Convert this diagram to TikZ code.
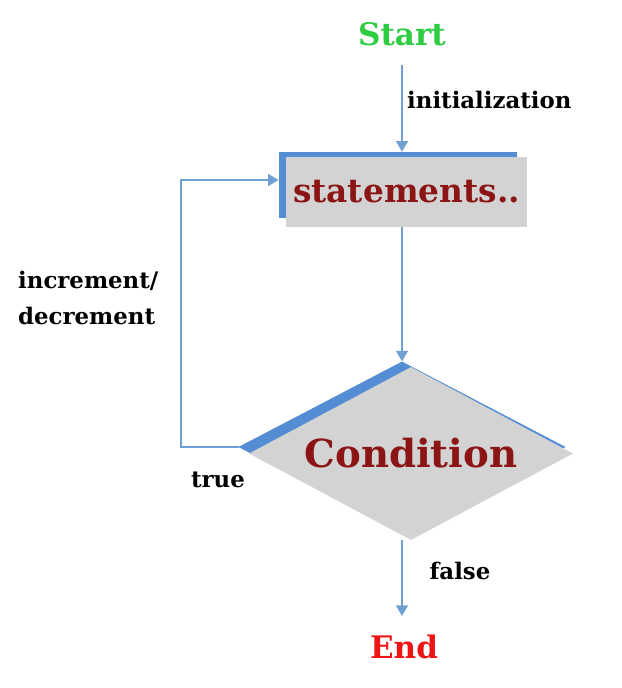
\documentclass[tikz,border=0pt]{standalone}
\usepackage{fontspec}
\setmainfont{DejaVu Serif}
\usetikzlibrary{arrows.meta,shapes.geometric}

\definecolor{lineblue}{RGB}{112,160,210}
\definecolor{boxblue}{RGB}{84,141,212}
\definecolor{boxgray}{RGB}{211,211,211}
\definecolor{darkred}{RGB}{139,21,21}
\definecolor{startgreen}{RGB}{46,204,64}
\definecolor{endred}{RGB}{238,20,20}

\begin{document}
\begin{tikzpicture}[x=0.03cm, y=-0.03cm,
    flow/.style={draw=lineblue, line width=1.6pt, -{Triangle[width=10pt,length=9pt]}},
    lbl/.style={inner sep=0, text=black, font=\bfseries\fontsize{19.5}{31.5}\selectfont},
    term/.style={inner sep=0, font=\bfseries\fontsize{26.5}{32}\selectfont}]
    \useasboundingbox (0,0) rectangle (622,688);

    \node[term, text=startgreen] (start) at (402,34) {Start};

    \node[fill=boxblue, minimum width=7.14cm, minimum height=1.98cm, inner sep=0] (stmtback) at (398,185) {};
    \node[fill=boxgray, minimum width=7.23cm, minimum height=2.1cm, inner sep=0, text=darkred, font=\bfseries\fontsize{28}{34}\selectfont] (stmt) at (406.5,192) {statements..};

    \node[diamond, aspect=1.9, fill=boxblue, draw=boxblue, line width=1pt, minimum width=9.75cm, minimum height=5.1cm, inner sep=0] (condback) at (402,447) {};
    \node[diamond, aspect=1.9, fill=boxgray, minimum width=9.72cm, minimum height=5.19cm, inner sep=0, text=darkred, font=\bfseries\fontsize{33}{40}\selectfont] (cond) at (411,453.5) {Condition};

    \node[term, text=endred] (stop) at (404,647) {End};

    \node[lbl, anchor=west] (init) at (407,100) {initialization};
    \node[lbl, anchor=west, align=left] (incr) at (18,298) {increment/\\decrement};
    \node[lbl] (true) at (218,480) {true};
    \node[lbl] (false) at (460,571) {false};

    % connectors
    \draw[flow, shorten <=16pt] (start.south) -- (start.south |- stmtback.north);
    \draw[flow] (stmt.south -| condback.north) -- (condback.north);
    \draw[flow] (condback.west) -- ++(-58,0) |- ([yshift=0.15cm]stmtback.west);
    \draw[flow, shorten >=16pt] (cond.south -| condback.south) -- (condback.south |- stop.north);
\end{tikzpicture}
\end{document}
